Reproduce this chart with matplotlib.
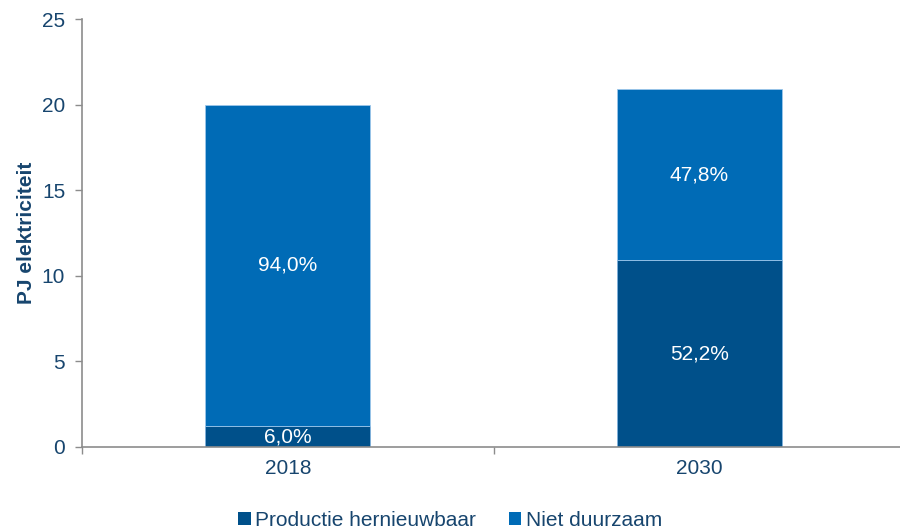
import matplotlib
matplotlib.use("Agg")
import matplotlib.pyplot as plt
from matplotlib.ticker import FixedLocator

plt.rcParams['font.family'] = ['Liberation Sans', 'DejaVu Sans']

# Electricity production (PJ) by year
years = ['2018', '2030']
hernieuwbaar = [1.2, 10.9]
niet_duurzaam = [18.8, 10.0]
pct_hernieuwbaar = ['6,0%', '52,2%']
pct_niet_duurzaam = ['94,0%', '47,8%']

dark_blue = '#00508a'
mid_blue = '#006bb6'
text_blue = '#17456e'
axis_grey = '#8c8c8c'

fig = plt.figure(figsize=(9, 5.3), dpi=100)
ax = fig.add_axes([0.091, 0.157, 0.915, 0.807])

x = range(len(years))
b1 = ax.bar(x, hernieuwbaar, width=0.4, color=dark_blue, edgecolor='#7fb1dc',
            linewidth=0.6, label='Productie hernieuwbaar')
b2 = ax.bar(x, niet_duurzaam, width=0.4, bottom=hernieuwbaar, color=mid_blue,
            edgecolor='#9cc6ea', linewidth=0.6, label='Niet duurzaam')

for i in x:
    ax.text(i, hernieuwbaar[i] / 2, pct_hernieuwbaar[i], ha='center', va='center',
            color='white', fontsize=15)
    ax.text(i, hernieuwbaar[i] + niet_duurzaam[i] / 2, pct_niet_duurzaam[i],
            ha='center', va='center', color='white', fontsize=15)

ax.set_xlim(-0.5, 1.5)
ax.set_ylim(0, 25)
ax.set_yticks([0, 5, 10, 15, 20, 25])
ax.set_xticks(list(x))
ax.set_xticklabels(years)
ax.xaxis.set_minor_locator(FixedLocator([-0.5, 0.5, 1.5]))

ax.tick_params(axis='y', direction='out', length=5, width=1, color=axis_grey,
               labelcolor=text_blue, labelsize=15, pad=7)
ax.tick_params(axis='x', which='major', length=0, labelcolor=text_blue,
               labelsize=15, pad=9)
ax.tick_params(axis='x', which='minor', direction='out', length=5, width=1,
               color=axis_grey)

for side in ['top', 'right']:
    ax.spines[side].set_visible(False)
for side in ['left', 'bottom']:
    ax.spines[side].set_color(axis_grey)
    ax.spines[side].set_linewidth(1.2)

ax.set_ylabel('PJ elektriciteit', fontsize=15, fontweight='bold', color=text_blue,
              labelpad=4)

leg = fig.legend(handles=[b1, b2], loc='lower center', bbox_to_anchor=(0.5, -0.035),
                 ncol=2, frameon=False, fontsize=15, handlelength=0.6,
                 handleheight=0.6, handletextpad=0.2, columnspacing=1.6)
for t in leg.get_texts():
    t.set_color(text_blue)
for h in leg.legend_handles:
    h.set_edgecolor('none')

fig.savefig('out.png', dpi=100)
